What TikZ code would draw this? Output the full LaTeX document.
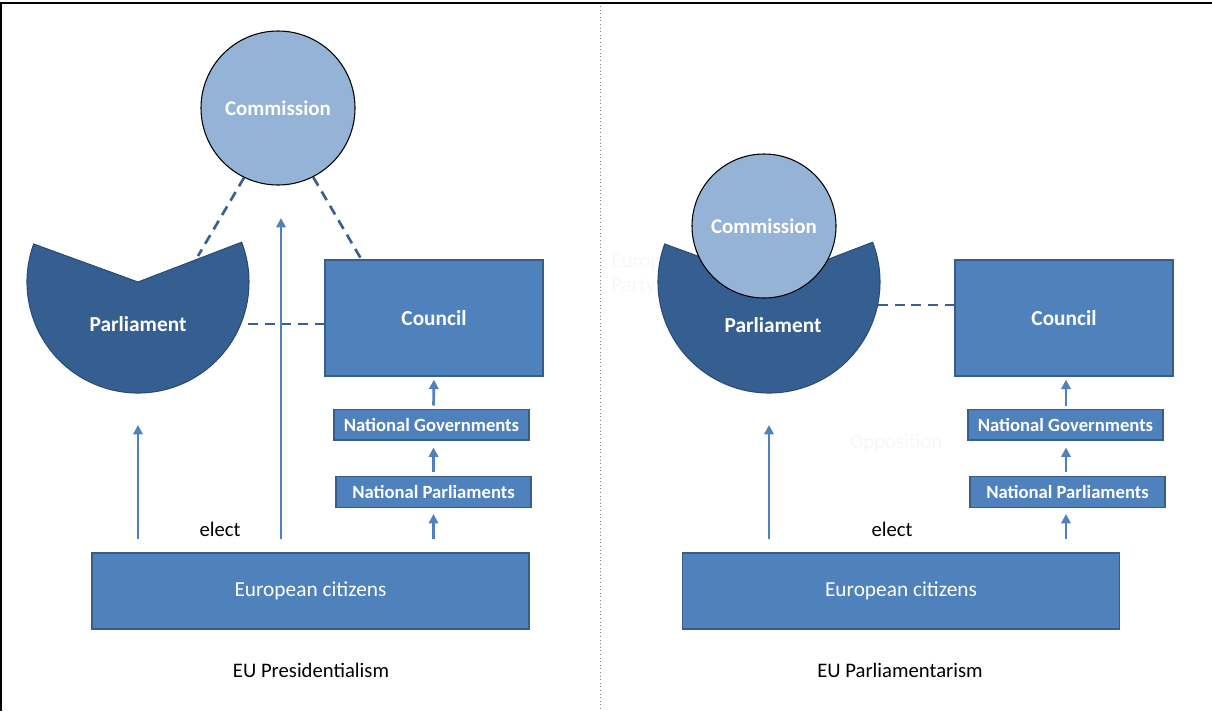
\documentclass[tikz,border=0pt]{standalone}
\usepackage{fontspec}
\setmainfont{Carlito}
\usetikzlibrary{arrows.meta,positioning,calc}
\definecolor{boxblue}{HTML}{4F81BD}
\definecolor{boxedge}{HTML}{385D8A}
\definecolor{parlblue}{HTML}{365F91}
\definecolor{parledge}{HTML}{2B4B72}
\definecolor{comblue}{HTML}{95B3D7}
\definecolor{dashblue}{HTML}{3D5F8F}
\definecolor{faint}{HTML}{F7F7F7}
\begin{document}
\begin{tikzpicture}[x=0.75pt,y=-0.75pt,
    box/.style={draw=boxedge,fill=boxblue,line width=1pt,text=white,inner sep=0pt},
    council/.style={box,minimum width=163.5pt,minimum height=87pt,font=\fontsize{16}{18}\selectfont\bfseries},
    natbox/.style={box,minimum width=146.25pt,minimum height=23pt,font=\fontsize{14}{16}\selectfont\bfseries},
    citbox/.style={box,minimum width=327.75pt,minimum height=57pt,font=\fontsize{16}{18}\selectfont},
    commission/.style={circle,draw=black,line width=0.8pt,fill=comblue,text=white,inner sep=0pt,font=\fontsize{15.7}{18}\selectfont\bfseries},
    parl/.style={draw=parledge,line width=0.8pt,fill=parlblue},
    label/.style={text=white,font=\fontsize{16}{18}\selectfont\bfseries},
    plain/.style={font=\fontsize{15.5}{18}\selectfont},
    dashline/.style={draw=dashblue,line width=2pt,dash pattern=on 7.5pt off 5pt},
    up/.style={draw=boxblue,line width=2pt,-{Triangle[length=7pt,width=7pt]}}]
\useasboundingbox (0,0) rectangle (1212,711);

% frame and divider
\draw[line width=2pt] (0,3) -- (1212,3);
\draw[line width=1.5pt] (1,3) -- (1,711);
\draw[gray,dotted,line width=0.7pt] (600,6) -- (600,711);

% EU Presidentialism
\node[commission,minimum size=115.5pt] (comL) at (278,108) {Commission};
\path[parl] (138,282) -- ++(200:111) arc[start angle=200,end angle=-21,radius=111] -- cycle;
\node[label] (parlL) at (138,324) {Parliament};
\node[council] (councilL) at (434,318) {Council};
\node[natbox] (ngL) at (431.5,424.5) {National Governments};
\node[natbox] (npL) at (433.5,492) {National Parliaments};
\node[citbox] (citL) at (310.5,591) {European citizens};
\node[plain] (elL) at (220,529) {elect};
\node[plain] (titL) at (311,670) {EU Presidentialism};

\coordinate (parlLne) at (198,256);
\coordinate (parlLe) at (248,324);
\coordinate (parlLbot) at (138,425);
\coordinate (comLbot) at (281,218);
\coordinate (councilLn) at ($(councilL.north west)+(37,0)$);
\draw[dashline] (comL.244) -- (parlLne);
\draw[dashline] (comL.297) -- (councilLn);
\draw[dashline] (parlLe) -- (parlLe -| councilL.west);

\draw[up] ($(citL.north)+(-172.5,-13)$) -- (parlLbot);
\draw[up] ($(citL.north)+(-29.5,-13)$) -- (comLbot);
\draw[up] ($(citL.north -| npL)+(0,-13)$) -- ($(npL.south)+(0,6)$);
\draw[up] ($(npL.north)+(0,-4)$) -- ($(ngL.south)+(2,7)$);
\draw[up] ($(ngL.north)+(2,-3)$) -- ($(councilL.south)+(0,3)$);

% EU Parliamentarism
\node[faint,plain,align=left,anchor=north west] (partyR) at (607,250) {European\\Party};
\node[faint,plain] (oppR) at (896,443) {Opposition};
\path[parl] (769,282) -- ++(200:111) arc[start angle=200,end angle=-21,radius=111] -- cycle;
\node[commission,minimum size=108pt] (comR) at (764,226) {Commission};
\node[label] (parlR) at (773,325) {Parliament};
\node[council] (councilR) at (1064,318) {Council};
\node[natbox] (ngR) at (1065.5,424.5) {National Governments};
\node[natbox] (npR) at (1067.5,492) {National Parliaments};
\node[citbox] (citR) at (901,591) {European citizens};
\node[plain] (elR) at (892,529) {elect};
\node[plain] (titR) at (900,670) {EU Parliamentarism};

\coordinate (parlRe) at (878,305);
\coordinate (parlRbot) at (769,425);
\draw[dashline] (parlRe) -- (parlRe -| councilR.west);

\draw[up] ($(citR.north)+(-132,-13)$) -- (parlRbot);
\draw[up] ($(citR.north -| npR)+(-1.5,-13)$) -- ($(npR.south)+(-1.5,6)$);
\draw[up] ($(npR.north)+(-1.5,-4)$) -- ($(ngR.south)+(0.5,7)$);
\draw[up] ($(ngR.north)+(0.5,-3)$) -- ($(councilR.south)+(2,3)$);
\end{tikzpicture}
\end{document}
